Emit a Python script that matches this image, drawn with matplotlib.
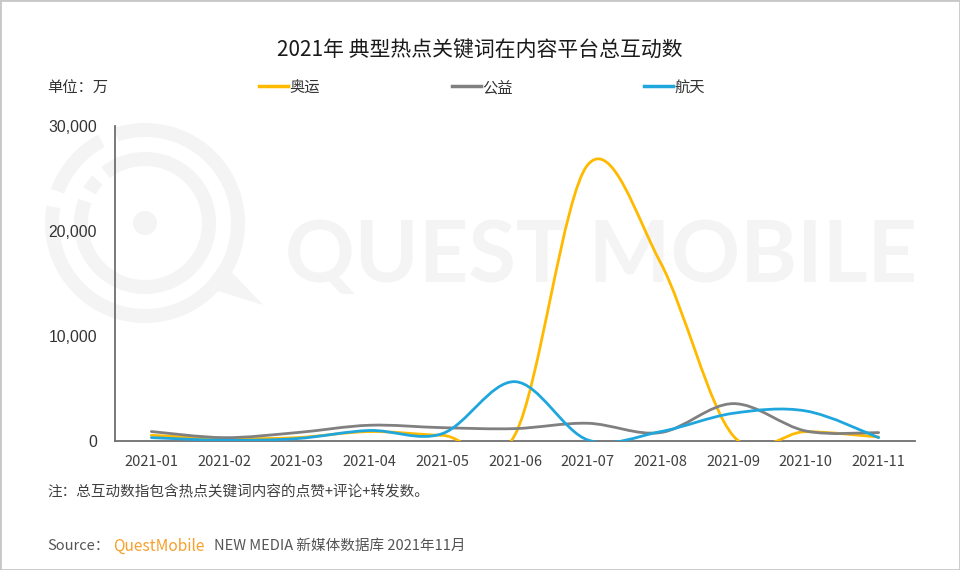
import matplotlib
matplotlib.use("Agg")
import matplotlib.pyplot as plt
from matplotlib.path import Path
from matplotlib.patches import PathPatch, Wedge, Circle, Polygon, Rectangle
from matplotlib.lines import Line2D
from matplotlib.ticker import FuncFormatter

plt.rcParams['font.family'] = ['Noto Sans CJK SC', 'DejaVu Sans']

months = ["2021-01", "2021-02", "2021-03", "2021-04", "2021-05", "2021-06",
          "2021-07", "2021-08", "2021-09", "2021-10", "2021-11"]
aoyun = [540, 230, 320, 900, 540, 600, 26300, 17000, 500, 890, 380]
gongyi = [900, 320, 800, 1500, 1270, 1180, 1690, 800, 3560, 950, 800]
hangtian = [320, 70, 230, 1000, 700, 5650, 100, 890, 2640, 2860, 320]
series_names = ["奥运", "公益", "航天"]
colors = ["#FFBA00", "#808080", "#1FA6DD"]

W, H = 960, 570


def px(x, y):
    # pixel position -> figure fraction
    return x / W, 1 - y / H


def smooth_path(xs, ys):
    # cubic bezier through the points, catmull-rom style like a smoothed office chart
    n = len(xs)
    verts = [(xs[0], ys[0])]
    codes = [Path.MOVETO]
    for i in range(n - 1):
        x0, y0 = xs[max(i - 1, 0)], ys[max(i - 1, 0)]
        x1, y1 = xs[i], ys[i]
        x2, y2 = xs[i + 1], ys[i + 1]
        x3, y3 = xs[min(i + 2, n - 1)], ys[min(i + 2, n - 1)]
        c1 = (x1 + (x2 - x0) / 6, y1 + (y2 - y0) / 6)
        c2 = (x2 - (x3 - x1) / 6, y2 - (y3 - y1) / 6)
        verts += [c1, c2, (x2, y2)]
        codes += [Path.CURVE4] * 3
    return Path(verts, codes)


fig = plt.figure(figsize=(9.6, 5.7), dpi=100)
fig.patch.set_facecolor("white")

# watermark logo
wm = "#f4f4f4"
logo_ax = fig.add_axes([0, 0, 1, 1], zorder=-2)
logo_ax.set_xlim(0, W)
logo_ax.set_ylim(H, 0)
logo_ax.axis("off")
for t1, t2 in [(-45, 108), (118, 160), (170, 315)]:
    logo_ax.add_patch(Wedge((145, 223), 100, -t2, -t1, width=14, color=wm, lw=0))
for t1, t2 in [(-200, 128), (138, 150)]:
    logo_ax.add_patch(Wedge((145, 223), 71, -t2, -t1, width=14, color=wm, lw=0))
logo_ax.add_patch(Circle((145, 223), 12, color=wm, lw=0))
logo_ax.add_patch(Polygon([(222, 262), (263, 305), (205, 287)], closed=True, color=wm, lw=0))
wtxt = logo_ax.text(285, 258, "QUEST MOBILE", fontsize=66, color=wm,
                    family="Lato", fontweight="bold", ha="left", va="center")

ax = fig.add_axes([115 / W, 1 - 441 / H, 800 / W, 315 / H])
ax.patch.set_alpha(0)

xs = list(range(len(months)))
for vals, c in zip([aoyun, gongyi, hangtian], colors):
    ax.add_patch(PathPatch(smooth_path(xs, vals), fill=False, edgecolor=c,
                           lw=2.0, capstyle="round", zorder=3))

ax.set_xlim(-0.5, len(months) - 0.5)
ax.set_ylim(0, 30000)
ax.set_yticks([0, 10000, 20000, 30000])
ax.yaxis.set_major_formatter(FuncFormatter(lambda v, p: f"{int(v):,}"))
ax.set_xticks(xs)
ax.set_xticklabels(months)
for lab in ax.get_yticklabels():
    lab.set_family("Liberation Sans")
    lab.set_fontsize(11.3)
    lab.set_color("#333333")
for lab in ax.get_xticklabels():
    lab.set_fontsize(10.5)
    lab.set_color("#404040")
ax.tick_params(axis="both", length=0)
ax.tick_params(axis="y", pad=13)
ax.tick_params(axis="x", pad=10)
for s in ["top", "right"]:
    ax.spines[s].set_visible(False)
for s in ["left", "bottom"]:
    ax.spines[s].set_color("#6e6e6e")
    ax.spines[s].set_linewidth(1.3)

# titles and texts
fig.text(*px(480, 51), "2021年 典型热点关键词在内容平台总互动数", fontsize=15,
         color="#1a1a1a", ha="center", va="center")
fig.text(*px(47, 88), "单位：万", fontsize=11, color="#333333", ha="left", va="center")

leg_x = [259, 452, 644]
for name, c, lx in zip(series_names, colors, leg_x):
    fig.add_artist(Line2D([lx / W, (lx + 29) / W], [1 - 86 / H, 1 - 86 / H],
                          color=c, lw=2.5, transform=fig.transFigure))
    fig.text(*px(lx + 30, 88), name, fontsize=11, color="#333333", ha="left", va="center")

fig.text(*px(47, 492), "注：总互动数指包含热点关键词内容的点赞+评论+转发数。", fontsize=10.5,
         color="#404040", ha="left", va="center")
fig.text(*px(47, 546), "Source：", fontsize=10.5, color="#555555", ha="left", va="center")
fig.text(*px(113, 546), "QuestMobile", fontsize=11.2, color="#F7A02C", ha="left", va="center")
fig.text(*px(214, 546), "NEW MEDIA 新媒体数据库 2021年11月", fontsize=10.5,
         color="#555555", ha="left", va="center")

# fit watermark text width
fig.canvas.draw()
bb = wtxt.get_window_extent()
wtxt.set_fontsize(66 * 632 / bb.width)

fig.add_artist(Rectangle((0, 0), 1, 1, transform=fig.transFigure, fill=False,
                         edgecolor="#c8c8c8", lw=2))

fig.savefig("out.png", dpi=100)
